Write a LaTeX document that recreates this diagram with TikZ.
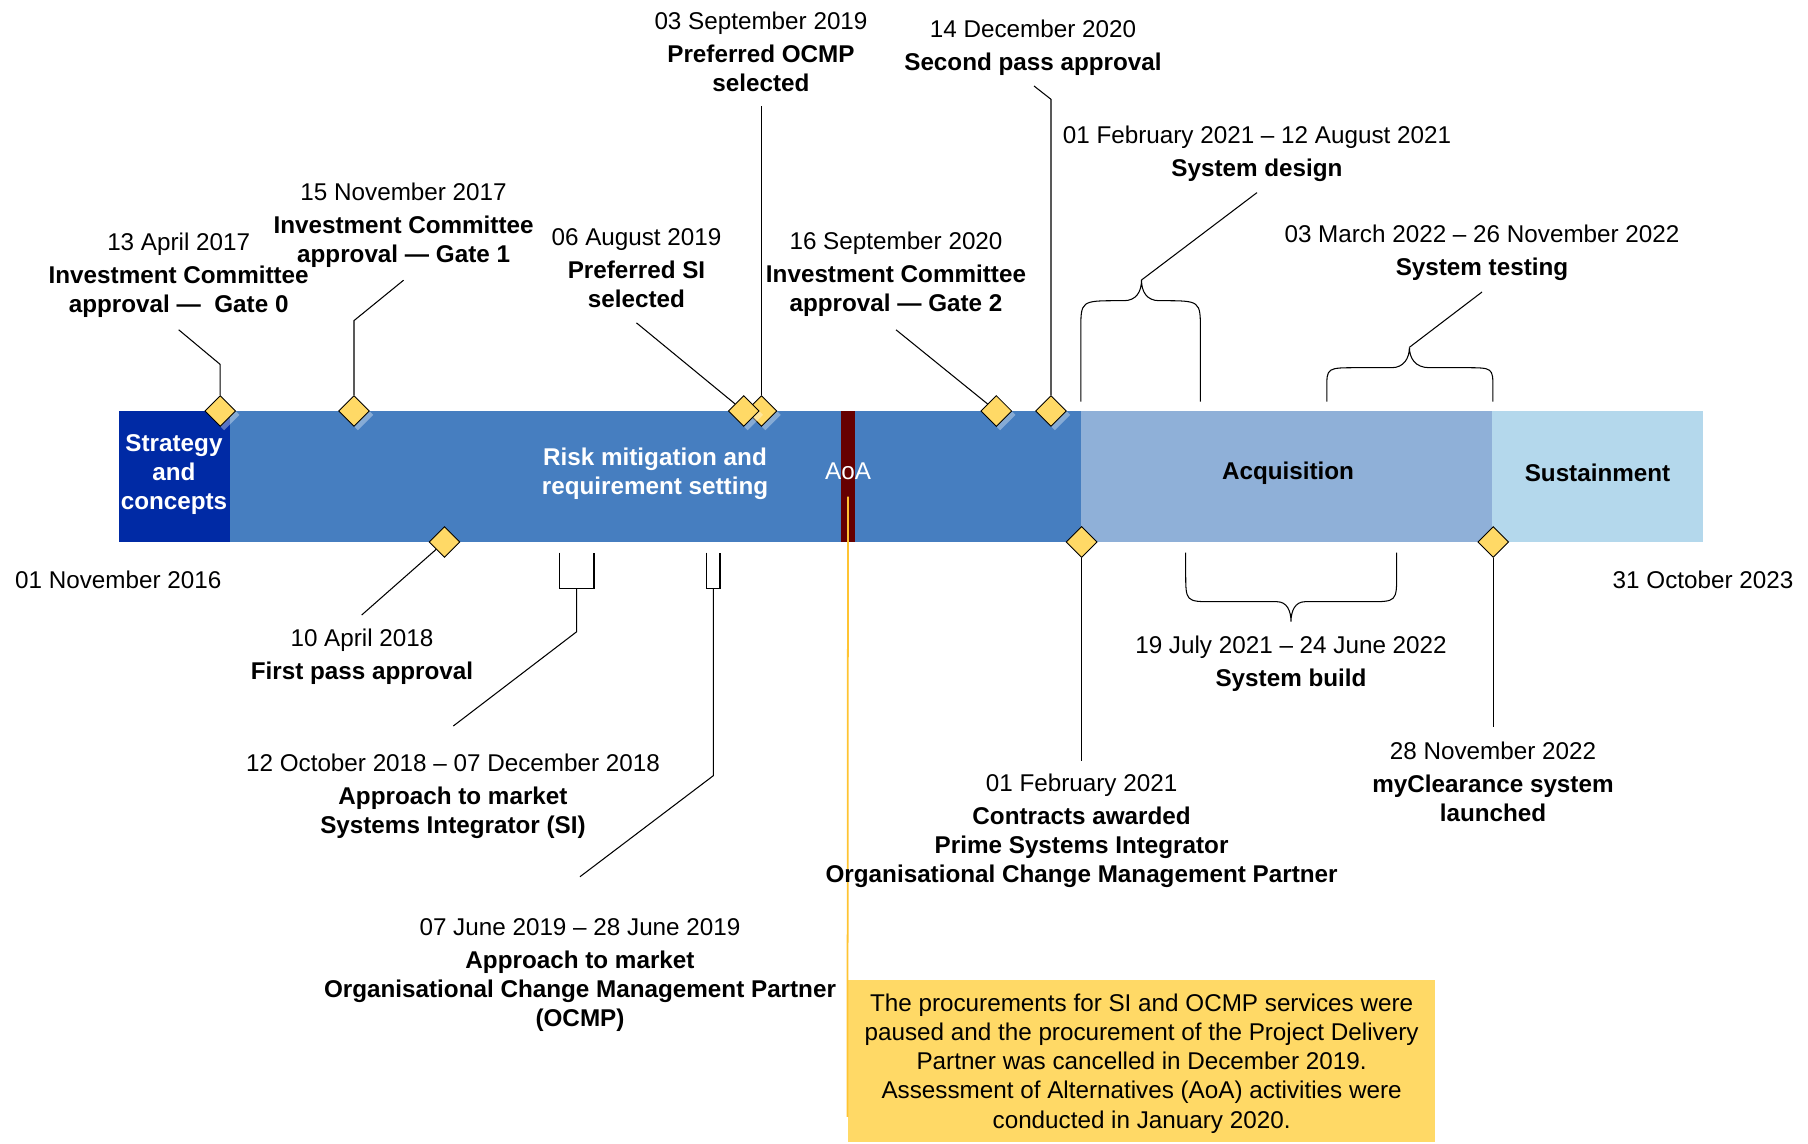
\documentclass[tikz,border=0pt]{standalone}
\usepackage{fontspec}
\setmainfont{Liberation Sans}
\usetikzlibrary{shapes.geometric,fit,shadows}

\definecolor{stratblue}{RGB}{0,42,165}
\definecolor{riskblue}{RGB}{70,126,192}
\definecolor{aoared}{RGB}{102,0,0}
\definecolor{acqblue}{RGB}{143,176,216}
\definecolor{sustblue}{RGB}{180,216,236}
\definecolor{msyellow}{RGB}{255,217,102}
\definecolor{aoayellow}{RGB}{255,196,50}

\begin{document}
\begin{tikzpicture}[x=0.02cm, y=-0.02cm,
		font=\fontsize{13.8}{16.6}\selectfont,
		phase/.style={rectangle, inner sep=0},
		phasetext/.style={align=center, inner sep=0, font=\fontsize{13.8}{16.6}\selectfont\bfseries},
		milestone/.style={diamond, draw, fill=msyellow, inner sep=0, minimum size=0.62cm, line width=0.5pt,
			drop shadow={shadow xshift=2.2pt, shadow yshift=-2.2pt, fill=white, opacity=0.35}},
		mstext/.style={align=center, inner sep=0},
		leader/.style={line width=0.6pt},
		aoaline/.style={draw=aoayellow, line width=1pt},
		callout/.style={rectangle, fill=msyellow, inner sep=0, minimum width=11.754cm, minimum height=3.23cm}
	]
	\useasboundingbox (0,0) rectangle (1808,1143);

	% Phases
	\node[phase, fill=stratblue, fit={(119,411) (229.5,542)}] (strategy) {};
	\node[phase, fill=riskblue, fit={(229.5,411) (1080.5,542)}] (risk) {};
	\node[phase, fill=aoared, fit={(841,411) (855,542)}] (aoa) {};
	\node[phase, fill=acqblue, fit={(1080.5,411) (1492,542)}] (acquisition) {};
	\node[phase, fill=sustblue, fit={(1492,411) (1703,542)}] (sustainment) {};
	\node[phasetext, text=white] (strategytxt) at (174,474.5) {Strategy\\and\\concepts};
	\node[phasetext, text=white] (risktxt) at (655,474) {Risk mitigation and\\requirement setting};
	\node[text=white, inner sep=0] (aoatxt) at (848,471.7) {AoA};
	\node[phasetext] (acquisitiontxt) at (1288,473.5) {Acquisition};
	\node[phasetext] (sustainmenttxt) at (1597.5,472.5) {Sustainment};

	% Start and end
	\node (startdate) at (118.3,580) {01 November 2016};
	\node (enddate) at (1703,580) {31 October 2023};

	% Note on the AoA
	\node[callout] (note) at (1141.6,1060.75) {};
	\node[mstext] (notetxt) at (1141.6,1063.5) {The procurements for SI and OCMP services were\\paused and the procurement of the Project Delivery\\Partner was cancelled in December 2019.\\Assessment of Alternatives (AoA) activities were\\conducted in January 2020.};
	\draw[aoaline] ([yshift=-0.4cm]aoa.center) -- ([yshift=0.5cm]note.south west);

	% Milestones above the bar
	\node[milestone] (gate1) at (354,411) {};
	\node[milestone] (gate0) at (220.2,411) {};
	\node[milestone] (prefocmp) at (761.5,411) {};
	\node[milestone] (prefsi) at (743.7,411) {};
	\node[milestone] (gate2) at (996.3,411) {};
	\node[milestone] (secondpass) at (1051,411) {};

	% Milestones below the bar
	\node[milestone] (firstpass) at (444.5,542) {};
	\node[milestone] (contracts) at (1081.6,542) {};
	\node[milestone] (myclearance) at (1493.2,542) {};

	% Labels above
	\node[mstext] (gate0txt) at (178.7,275) {13 April 2017\\[2pt]\textbf{Investment Committee}\\\textbf{approval —\ \ Gate 0}};
	\node[mstext] (gate1txt) at (403.6,225) {15 November 2017\\[2pt]\textbf{Investment Committee}\\\textbf{approval — Gate 1}};
	\node[mstext] (prefsitxt) at (636.5,268.2) {06 August 2019\\[2pt]\textbf{Preferred SI}\\\textbf{selected}};
	\node[mstext] (prefocmptxt) at (761,52) {03 September 2019\\[2pt]\textbf{Preferred OCMP}\\\textbf{selected}};
	\node[mstext] (gate2txt) at (896,274.5) {16 September 2020\\[2pt]\textbf{Investment Committee}\\\textbf{approval — Gate 2}};
	\node[mstext] (secondpasstxt) at (1033,47.5) {14 December 2020\\[2pt]\textbf{Second pass approval}};
	\node[mstext] (designtxt) at (1257,154) {01 February 2021 – 12 August 2021\\[2pt]\textbf{System design}};
	\node[mstext] (testingtxt) at (1482,253) {03 March 2022 – 26 November 2022\\[2pt]\textbf{System testing}};

	% Labels below
	\node[mstext] (firstpasstxt) at (362,656.5) {10 April 2018\\[2pt]\textbf{First pass approval}};
	\node[mstext] (sitxt) at (453,796.5) {12 October 2018 – 07 December 2018\\[2pt]\textbf{Approach to market}\\\textbf{Systems Integrator (SI)}};
	\node[mstext] (ocmptxt) at (580,975.5) {07 June 2019 – 28 June 2019\\[2pt]\textbf{Approach to market}\\\textbf{Organisational Change Management Partner}\\\textbf{(OCMP)}};
	\node[mstext] (contractstxt) at (1081.6,831) {01 February 2021\\[2pt]\textbf{Contracts awarded}\\\textbf{Prime Systems Integrator}\\\textbf{Organisational Change Management Partner}};
	\node[mstext] (buildtxt) at (1291,663.5) {19 July 2021 – 24 June 2022\\[2pt]\textbf{System build}};
	\node[mstext] (myclearancetxt) at (1493,782) {28 November 2022\\[2pt]\textbf{myClearance system}\\\textbf{launched}};

	% Leader ends
	\coordinate (gate0end) at (178.7,329.8);
	\coordinate (gate1end) at (403.6,280.2);
	\coordinate (prefsiend) at (636.5,322.9);
	\coordinate (prefocmpend) at (761.5,106);
	\coordinate (gate2end) at (896,329.8);
	\coordinate (secondpassend) at (1034,86);
	\coordinate (designend) at (1257,192.6);
	\coordinate (testingend) at (1482,292);
	\coordinate (firstpassend) at (361.7,615);
	\coordinate (siend) at (453.3,726);
	\coordinate (ocmpend) at (580,876.7);
	\coordinate (contractsend) at (1081.6,761);
	\coordinate (myclearanceend) at (1493.2,726.7);

	% Leaders
	\draw[leader] (gate0.north) -- (220.2,364.4) -- (gate0end);
	\draw[leader] (gate1.north) -- (354,320.6) -- (gate1end);
	\draw[leader] (prefsiend) -- (prefsi);
	\draw[leader] (prefocmpend) -- (prefocmp.north);
	\draw[leader] (gate2end) -- (gate2);
	\draw[leader] (secondpassend) -- (1051,99.3) -- (secondpass.north);
	\draw[leader] (firstpass) -- (firstpassend);
	\draw[leader] (contracts.south) -- (contractsend);
	\draw[leader] (myclearance.south) -- (myclearanceend);

	% Braces and brackets
	\draw[leader] (1080.8,401.7) -- (1080.8,330) .. controls (1080.8,300.7) .. (1119,300.7) -- (1123.7,300.7)
		.. controls (1136,300.7) and (1141.5,292) .. (1141.5,280)
		.. controls (1141.5,292) and (1147,300.7) .. (1159.3,300.7) -- (1162,300.7)
		.. controls (1200.4,300.7) .. (1200.4,330) -- (1200.4,401.7);
	\draw[leader] (1141.5,280) -- (designend);
	\draw[leader] (1326.8,401.7) -- (1326.8,388) .. controls (1326.8,367.7) .. (1358,367.7) -- (1391.5,367.7)
		.. controls (1404,367.7) and (1409.4,358) .. (1409.4,347.3)
		.. controls (1409.4,358) and (1415,367.7) .. (1429.5,367.7) -- (1465,367.7)
		.. controls (1492.9,367.7) .. (1492.9,388) -- (1492.9,401.7);
	\draw[leader] (1409.4,347.3) -- (testingend);
	\draw[leader] (1185.7,552.7) -- (1185.7,573) .. controls (1185.7,601.7) .. (1213.7,601.7) -- (1277,601.7)
		.. controls (1287,601.7) and (1291,611) .. (1291,621.7)
		.. controls (1291,611) and (1295,601.7) .. (1305,601.7) -- (1368.7,601.7)
		.. controls (1396.7,601.7) .. (1396.7,573) -- (1396.7,552.7);
	\draw[leader] (559.3,552.7) -- (559.3,588.3) -- (594,588.3) -- (594,552.7);
	\draw[leader] (576.7,588.3) -- (576.7,631.7) -- (siend);
	\draw[leader] (706.7,552.7) -- (706.7,588.3) -- (720,588.3) -- (720,552.7);
	\draw[leader] (713.3,588.3) -- (713.3,775.7) -- (ocmpend);

\end{tikzpicture}
\end{document}
